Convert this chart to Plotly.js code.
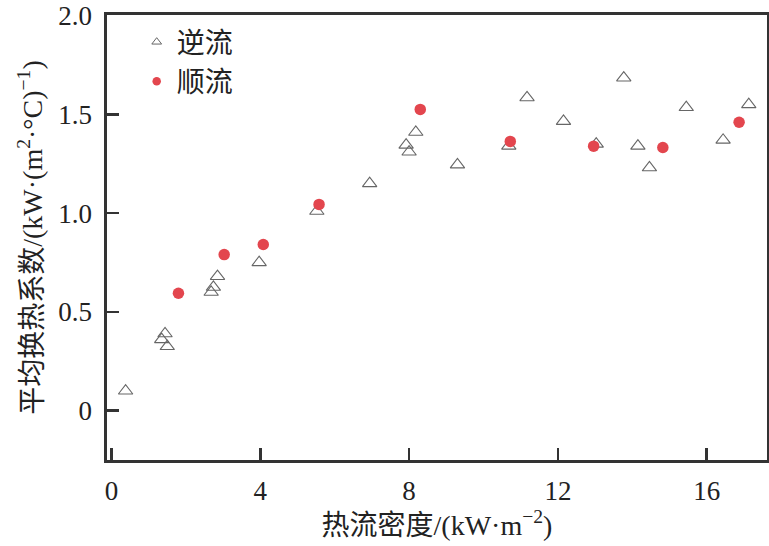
<!DOCTYPE html>
<html>
<head>
<meta charset="utf-8">
<script src="https://cdn.plot.ly/plotly-3.0.1.min.js"></script>
<style>html,body{margin:0;padding:0;background:#fff;}#chart{width:769px;height:546px;}</style>
</head>
<body>
<div id="chart"></div>
<script>
// 逆流 (counter-flow)
const counterX = [0.38, 1.35, 1.44, 1.50, 2.68, 2.74, 2.85, 3.97, 5.52, 6.94, 7.92, 8.00, 8.18, 9.30, 10.68, 11.17, 12.15, 13.03, 13.77, 14.15, 14.46, 15.45, 16.44, 17.13];
const counterY = [0.10, 0.36, 0.39, 0.325, 0.60, 0.625, 0.68, 0.75, 1.01, 1.15, 1.345, 1.31, 1.41, 1.245, 1.34, 1.585, 1.465, 1.35, 1.685, 1.34, 1.23, 1.535, 1.37, 1.55];
// 顺流 (parallel-flow)
const parallelX = [1.80, 3.03, 4.08, 5.58, 8.30, 10.72, 12.96, 14.82, 16.87];
const parallelY = [0.594, 0.79, 0.841, 1.044, 1.525, 1.363, 1.339, 1.332, 1.46];

const seriesNames = ['逆流', '顺流'];
const xTickVals = [0, 4, 8, 12, 16];
const xTickText = ['0', '4', '8', '12', '16'];
const yTickVals = [0, 0.5, 1.0, 1.5, 2.0];
const yTickText = ['0', '0.5', '1.0', '1.5', '2.0'];
const xTitle = '热流密度/(kW·m<sup>−2</sup>)';
const yTitle = '平均换热系数/(kW·(m<sup>2</sup>·°C)<sup>−1</sup>)';

const FONT = '"Liberation Serif", "Times New Roman", "Noto Sans CJK SC", serif';
const RED = '#e3464e';
const TRI = '#666666';

const traces = [
  {x: counterX, y: counterY, type: 'scatter', mode: 'markers', showlegend: false,
   marker: {symbol: 'triangle-up-open', size: 12.5, color: TRI, line: {width: 1.1, color: TRI}}},
  {x: parallelX, y: parallelY, type: 'scatter', mode: 'markers', showlegend: false,
   marker: {symbol: 'circle', size: 11.5, color: RED}},
  {x: [null], y: [null], type: 'scatter', mode: 'markers', name: seriesNames[0],
   marker: {symbol: 'triangle-up-open', size: 8.5, color: TRI, line: {width: 1, color: TRI}}},
  {x: [null], y: [null], type: 'scatter', mode: 'markers', name: seriesNames[1],
   marker: {symbol: 'circle', size: 8.5, color: RED}}
];

const axisCommon = {
  showgrid: false, zeroline: false, showline: true, mirror: true,
  linecolor: '#333', linewidth: 2.7,
  ticks: 'inside', ticklen: 12, tickwidth: 2.5, tickcolor: '#333',
  tickfont: {family: FONT, size: 27, color: '#222'}
};

const layout = {
  width: 769, height: 546,
  margin: {l: 107, r: 2, t: 15, b: 86},
  paper_bgcolor: '#fff', plot_bgcolor: '#fff',
  font: {family: FONT, color: '#222'},
  xaxis: Object.assign({}, axisCommon, {
    range: [-0.12, 17.62], tickmode: 'array', tickvals: xTickVals, ticktext: xTickText,
    ticklabelstandoff: 5,
    title: {text: xTitle, font: {family: FONT, size: 28, color: '#222'}, standoff: 6}
  }),
  yaxis: Object.assign({}, axisCommon, {
    range: [-0.25, 2.003], tickmode: 'array', tickvals: yTickVals, ticktext: yTickText,
    ticklabelstandoff: 7,
    title: {text: yTitle, font: {family: FONT, size: 28, color: '#222'}, standoff: 8}
  }),
  legend: {x: 0.045, y: 0.995, xanchor: 'left', yanchor: 'top', bgcolor: 'rgba(0,0,0,0)',
    font: {family: FONT, size: 28, color: '#222'}, itemwidth: 30, tracegroupgap: 0}
};

Plotly.newPlot('chart', traces, layout, {displayModeBar: false, staticPlot: true});
</script>
</body>
</html>
